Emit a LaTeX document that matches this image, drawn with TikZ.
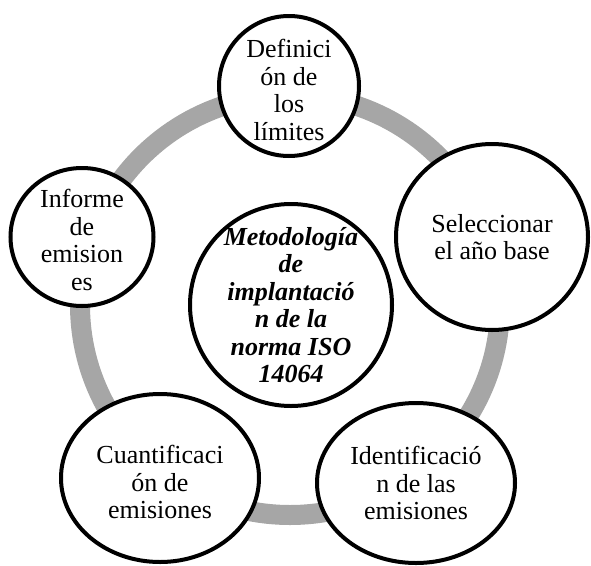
\documentclass[tikz,border=0pt]{standalone}
\usepackage{fontspec}
\setmainfont{Liberation Serif}
\usetikzlibrary{shapes.geometric}
\definecolor{ringgray}{HTML}{A6A6A6}
\tikzset{
  stage/.style={ellipse, draw, line width=4pt, fill=white, inner sep=0pt},
  stagetext/.style={align=center, inner sep=0pt, font=\fontsize{26}{27.5}\selectfont},
}
\begin{document}
\begin{tikzpicture}[x=1pt, y=-1pt]
  \useasboundingbox (0,0) rectangle (591,565);

  \draw[ringgray, line width=20pt] (290,305) circle (210pt);

    \node[stage, minimum width=140pt, minimum height=140pt] (limites) at (289,86){};
    \node[stage, minimum width=192pt, minimum height=186pt] (anobase) at (492,237){};
    \node[stage, minimum width=198pt, minimum height=160pt] (identif) at (416,483){};
    \node[stage, minimum width=198pt, minimum height=168pt] (cuantif) at (160,478){};
    \node[stage, minimum width=143pt, minimum height=138pt] (informe) at (82,237){};
    \node[stage, minimum width=202pt, minimum height=202pt] (metodo) at (291,305){};

    \node[stagetext, yshift=-4pt] (limitestxt) at (limites){Definici\\ón de\\los\\límites};
    \node[stagetext] (anobasetxt) at (anobase){Seleccionar\\el año base};
    \node[stagetext] (identiftxt) at (identif){Identificació\\n de las\\emisiones};
    \node[stagetext, yshift=-4pt] (cuantiftxt) at (cuantif){Cuantificaci\\ón de\\emisiones};
    \node[stagetext, yshift=-3pt] (informetxt) at (informe){Informe\\de\\emision\\es};
    \node[stagetext, font=\fontsize{26}{27.5}\selectfont\bfseries\itshape] (metodotxt) at (metodo)
      {Metodología\\de\\implantació\\n de la\\norma ISO\\14064};
\end{tikzpicture}
\end{document}
